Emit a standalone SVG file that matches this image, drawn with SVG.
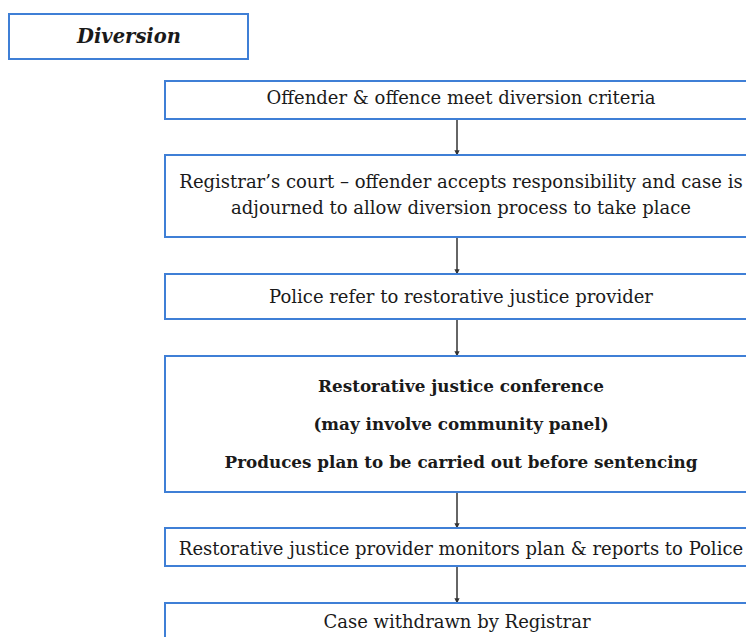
<svg xmlns="http://www.w3.org/2000/svg" width="746" height="637" viewBox="0 0 746 637">
  <style>
    .box { fill: #ffffff; stroke: #3f7fd6; stroke-width: 2; }
    .t { font-family: "DejaVu Serif", "Liberation Serif", serif; font-size: 18px; fill: #1a1a1a; text-anchor: middle; }
    .b { font-weight: bold; font-size: 16.8px; }
    .title { font-family: "DejaVu Serif", "Liberation Serif", serif; font-size: 19.5px; font-weight: bold; font-style: italic; fill: #1a1a1a; text-anchor: middle; }
    .conn { stroke: #333333; stroke-width: 1.5; fill: none; marker-end: url(#arrow); }
  </style>
  <defs>
    <marker id="arrow" viewBox="0 0 6 6" refX="5.5" refY="3" markerWidth="3.5" markerHeight="3.5" orient="auto">
      <path d="M0,0 L6,3 L0,6 z" fill="#333333"/>
    </marker>
  </defs>
  <rect width="746" height="637" fill="#ffffff"/>

  <g id="title">
    <rect class="box" x="9" y="14" width="239" height="45"/>
    <text class="title" x="129" y="43">Diversion</text>
  </g>

  <g id="connectors">
    <line class="conn" x1="457" y1="119" x2="457" y2="155"/>
    <line class="conn" x1="457" y1="237" x2="457" y2="274"/>
    <line class="conn" x1="457" y1="319" x2="457" y2="356"/>
    <line class="conn" x1="457" y1="492" x2="457" y2="528"/>
    <line class="conn" x1="457" y1="566" x2="457" y2="603"/>
  </g>

  <g id="criteria">
    <rect class="box" x="165" y="81" width="600" height="38"/>
    <text class="t" x="461" y="104">Offender &amp; offence meet diversion criteria</text>
  </g>

  <g id="registrar-court">
    <rect class="box" x="165" y="155" width="600" height="82"/>
    <text class="t" x="461" y="188">Registrar’s court – offender accepts responsibility and case is</text>
    <text class="t" x="461" y="214">adjourned to allow diversion process to take place</text>
  </g>

  <g id="police-refer">
    <rect class="box" x="165" y="274" width="600" height="45"/>
    <text class="t" x="461" y="303">Police refer to restorative justice provider</text>
  </g>

  <g id="conference">
    <rect class="box" x="165" y="356" width="600" height="136"/>
    <text class="t b" x="461" y="392">Restorative justice conference</text>
    <text class="t b" x="461" y="430">(may involve community panel)</text>
    <text class="t b" x="461" y="468">Produces plan to be carried out before sentencing</text>
  </g>

  <g id="monitoring">
    <rect class="box" x="165" y="528" width="600" height="38"/>
    <text class="t" x="461" y="555">Restorative justice provider monitors plan &amp; reports to Police</text>
  </g>

  <g id="withdrawn">
    <rect class="box" x="165" y="603" width="600" height="50"/>
    <text class="t" x="457" y="628">Case withdrawn by Registrar</text>
  </g>
</svg>
